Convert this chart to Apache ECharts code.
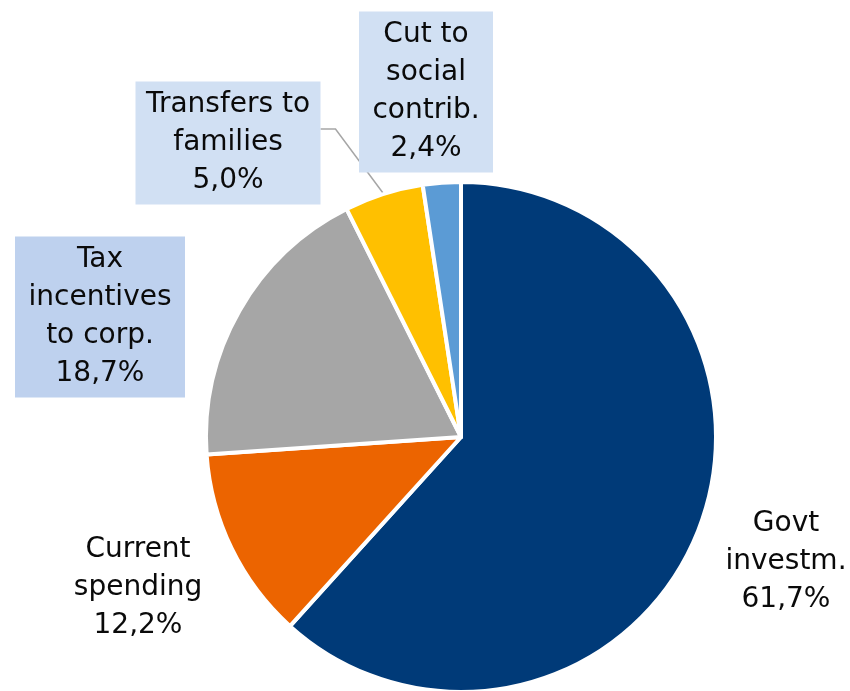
<!DOCTYPE html>
<html>
<head>
<meta charset="utf-8">
<script src="https://cdn.jsdelivr.net/npm/echarts@6/dist/echarts.min.js"></script>
<style>
  html, body { margin: 0; padding: 0; background: #fff; }
  #chart { width: 850px; height: 691px; }
</style>
</head>
<body>
<div id="chart"></div>
<script>
// Breakdown of the stimulus package, shares in percent
const categories = [
  'Govt\ninvestm.',
  'Current\nspending',
  'Tax\nincentives\nto corp.',
  'Transfers to\nfamilies',
  'Cut to\nsocial\ncontrib.'
];
const shares = [61.7, 12.2, 18.7, 5.0, 2.4];
const sliceColors = ['#003A78', '#EC6400', '#A6A6A6', '#FFC000', '#5B9BD5'];

// Label box styling per slice (boxed callouts for the small/mid slices)
const labelBoxes = [
  { bg: null, width: 160 },
  { bg: null, width: 160 },
  { bg: '#BED1EE', width: 170 },
  { bg: '#D1E0F3', width: 185 },
  { bg: '#D1E0F3', width: 134 }
];
// Centre of each label box on the canvas
const labelCentres = [
  [786, 562],
  [138, 588],
  [100, 317],
  [228, 143],
  [426, 92]
];

const chart = echarts.init(document.getElementById('chart'), null, { renderer: 'canvas' });

const fmt = v => v.toFixed(1).replace('.', ',') + '%';

const data = categories.map((name, i) => ({
  name: name,
  value: shares[i],
  itemStyle: { color: sliceColors[i] },
  label: {
    backgroundColor: labelBoxes[i].bg || 'transparent',
    width: labelBoxes[i].width,
    padding: [5, 0, 4, 0]
  },
  labelLine: { show: i === 3 }
}));

chart.setOption({
  animation: false,
  backgroundColor: '#ffffff',
  series: [{
    type: 'pie',
    center: [461, 437],
    radius: [0, 255],
    startAngle: 90,
    clockwise: true,
    avoidLabelOverlap: false,
    itemStyle: { borderColor: '#ffffff', borderWidth: 4 },
    label: {
      show: true,
      position: 'outside',
      formatter: p => p.name + '\n' + fmt(p.value),
      fontFamily: 'DejaVu Sans',
      fontSize: 28,
      lineHeight: 38,
      color: '#0a0a0a',
      align: 'center',
      verticalAlign: 'middle',
      overflow: 'none'
    },
    labelLine: {
      lineStyle: { color: '#A6A6A6', width: 1.5 }
    },
    labelLayout: function (params) {
      const c = labelCentres[params.dataIndex];
      const res = { x: c[0], y: c[1], align: 'center', verticalAlign: 'middle' };
      if (params.dataIndex === 3 && params.labelLinePoints) {
        const edge = params.labelLinePoints[0];
        const boxRight = c[0] + labelBoxes[3].width / 2;
        res.labelLinePoints = [edge, [boxRight + 15, c[1] - 14], [boxRight, c[1] - 14]];
      }
      return res;
    },
    data: data
  }]
});
</script>
</body>
</html>
